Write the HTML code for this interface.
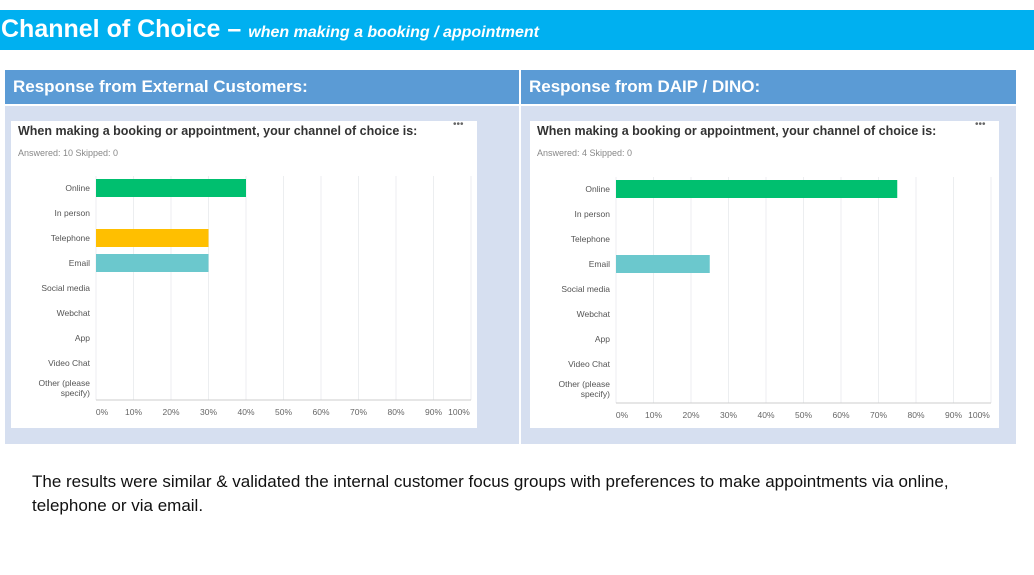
<!DOCTYPE html>
<html><head><meta charset="utf-8"><style>
body{margin:0;width:1034px;height:575px;background:#fff;position:relative;overflow:hidden;font-family:"Liberation Sans",sans-serif}
.abs{position:absolute}
</style></head><body>
<div class="abs" style="left:0;top:10px;width:1034px;height:40px;background:#00b0f0"></div>
<div class="abs" style="left:1px;top:15px;color:#fff;font-weight:bold;font-size:25px;white-space:nowrap">Channel of Choice – <i style="font-size:16px">when making a booking / appointment</i></div>
<div class="abs" style="left:5px;top:70px;width:514px;height:34px;background:#5b9bd5;color:#fff;font-weight:bold;font-size:17px;line-height:34px;padding-left:8px;box-sizing:border-box">Response from External Customers:</div>
<div class="abs" style="left:521px;top:70px;width:495px;height:34px;background:#5b9bd5;color:#fff;font-weight:bold;font-size:17px;line-height:34px;padding-left:8px;box-sizing:border-box">Response from DAIP / DINO:</div>
<div class="abs" style="left:5px;top:106px;width:514px;height:338px;background:#d6dff0"></div>
<div class="abs" style="left:521px;top:106px;width:495px;height:338px;background:#d6dff0"></div>
<svg class="abs" style="left:0;top:0" width="1034" height="575" id="svg"></svg>
<div class="abs" style="left:32px;top:470px;font-size:17px;line-height:24px;color:#111;width:960px">The results were similar &amp; validated the internal customer focus groups with preferences to make appointments via online, telephone or via email.</div>
<script>
const categories=["Online","In person","Telephone","Email","Social media","Webchat","App","Video Chat","Other (please|specify)"];
const externalValues=[40,0,30,30,0,0,0,0,0];
const daipValues=[75,0,0,25,0,0,0,0,0];
const ticks=["0%","10%","20%","30%","40%","50%","60%","70%","80%","90%","100%"];
const barColors=["#00bf6f","#00bf6f","#ffbf00","#6bc8cd","#6bc8cd","#6bc8cd","#6bc8cd","#6bc8cd","#6bc8cd"];
const NS="http://www.w3.org/2000/svg";
const svg=document.getElementById('svg');
function mk(t,a,p){const e=document.createElementNS(NS,t);for(const k in a)e.setAttribute(k,a[k]);(p||svg).appendChild(e);return e;}
function chart(cfg,vals,answered,nm){
  const g=mk('g',{});
  
  
  const card=mk('rect',{x:cfg.cx,y:121,width:cfg.cw,height:307,fill:'#fff'},g);
  
  
  const t=mk('text',{x:cfg.cx+7,y:135,'font-size':12.5,'font-weight':'bold',fill:'#333'},g);t.textContent="When making a booking or appointment, your channel of choice is:";
  
  
  const s=mk('text',{x:cfg.cx+7,y:156,'font-size':9,fill:'#888'},g);s.textContent="Answered: "+answered+"    Skipped: 0";
  
  
  s.setAttribute('xml:space','preserve');
  const m=mk('text',{x:cfg.cx+cfg.cw-24,y:127,'font-size':10,fill:'#666'},g);m.textContent="•••";
  
  
  const x=v=>cfg.x0+v/100*cfg.w;
  const y=i=>cfg.y0+i*25;
  ticks.forEach((tk,i)=>{
    const v=i*10;
    const l=mk('line',{x1:x(v),x2:x(v),y1:cfg.y0-12,y2:cfg.axisY,stroke:'#eceef0'},g);
    
    
    const tt=mk('text',{x:x(v)+(i==0?6:i==10?-12:0),y:cfg.axisY+15,'font-size':8.5,fill:'#666','text-anchor':'middle'},g);tt.textContent=tk;
    
    
  });
  const ax=mk('line',{x1:cfg.x0,x2:x(100),y1:cfg.axisY,y2:cfg.axisY,stroke:'#ccc'},g);
  
  
  categories.forEach((c,i)=>{
    const parts=c.split('|');
    parts.forEach((p,j)=>{
      const tl=mk('text',{x:cfg.x0-6,y:y(i)+3+(parts.length>1?(j-0.5)*10:0),'font-size':8.5,fill:'#555','text-anchor':'end'},g);tl.textContent=p;
      
      
    });
    if(vals[i]>0){
      const b=mk('rect',{x:cfg.x0,y:y(i)-9,width:x(vals[i])-cfg.x0,height:18,fill:barColors[i]},g);
      
      
    }
  });
}
chart({cx:11,cw:466,x0:96,w:375,y0:188,axisY:400},externalValues,10,'external-chart');
chart({cx:530,cw:469,x0:616,w:375,y0:189,axisY:403},daipValues,4,'daip-chart');
</script>
</body></html>
